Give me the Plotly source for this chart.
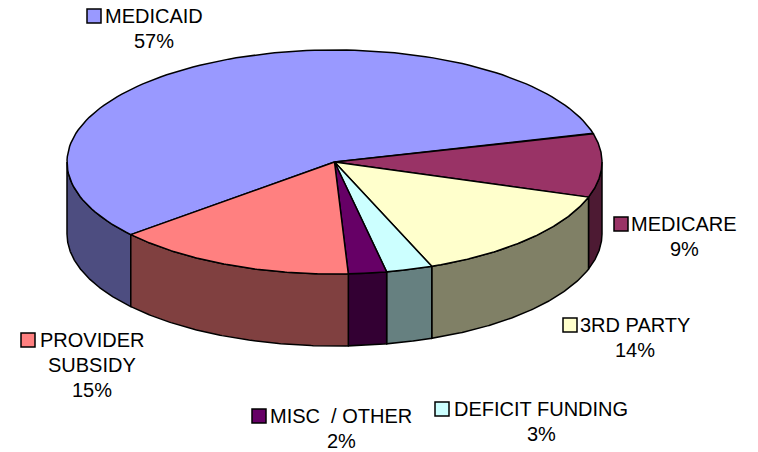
import math
import numpy as np
import plotly.graph_objects as go

# funding mix (%), clockwise from the left edge of the MEDICAID slice
CATEGORIES = ["MEDICAID", "MEDICARE", "3RD PARTY", "DEFICIT FUNDING", "MISC  / OTHER", "PROVIDER SUBSIDY"]
VALUES = [57.1, 9.2, 14.0, 2.8, 2.3, 14.6]

TOP_COLORS = ["#9999FF", "#993366", "#FFFFCC", "#CCFFFF", "#660066", "#FF8080"]
SIDE_COLORS = ["#4D4D80", "#4D1A33", "#808066", "#668080", "#330033", "#804040"]

# label layout: (text lines, text centre x, first-line centre y, key square left x)
LABEL_LAYOUT = {
    "MEDICAID": (["MEDICAID"], 154, 16, 87),
    "MEDICARE": (["MEDICARE"], 684, 224, 614),
    "3RD PARTY": (["3RD PARTY"], 635, 325, 563),
    "DEFICIT FUNDING": (["DEFICIT FUNDING"], 541, 409, 435),
    "MISC  / OTHER": (["MISC \u00a0/ OTHER"], 341, 416, 252),
    "PROVIDER SUBSIDY": (["PROVIDER", "SUBSIDY"], 92, 340, 21),
}

W, H = 758, 452
CX, CY, RX, RY, DEPTH = 334.5, 162, 267.5, 112, 72
START = 220.4  # degrees, slices run clockwise
LINE = dict(color="black", width=1.5)
FONT = dict(family="Liberation Sans, Arial, sans-serif", size=20, color="black")


def arc(a0, a1, dy=0.0, n=120):
    t = np.radians(np.linspace(a0, a1, n))
    return CX + RX * np.cos(t), CY - RY * np.sin(t) + dy


fig = go.Figure()
total = float(sum(VALUES))
bounds = []
acc = START
for v in VALUES:
    a0 = acc
    a1 = acc - v / total * 360.0
    bounds.append((a0, a1))
    acc = a1

# front walls (visible where the ellipse faces the viewer)
for (a0, a1), col in zip(bounds, SIDE_COLORS):
    for lo, hi in [(-180.0, 0.0), (180.0, 360.0)]:
        s, e = max(a1, lo), min(a0, hi)
        if e - s <= 0.01:
            continue
        x1, y1 = arc(e, s)
        x2, y2 = arc(s, e, dy=DEPTH)
        fig.add_trace(go.Scatter(x=np.r_[x1, x2, x1[:1]], y=np.r_[y1, y2, y1[:1]],
                                 mode="lines", fill="toself", fillcolor=col, line=LINE,
                                 hoverinfo="skip", showlegend=False))

# top faces
for (a0, a1), col, name in zip(bounds, TOP_COLORS, CATEGORIES):
    xs, ys = arc(a0, a1)
    fig.add_trace(go.Scatter(x=np.r_[CX, xs, CX], y=np.r_[CY, ys, CY],
                             mode="lines", fill="toself", fillcolor=col, line=LINE,
                             name=name, hoverinfo="skip", showlegend=False))

# labels with legend keys
pct = [f"{math.floor(round(v / total * 100, 6) + 0.5)}%" for v in VALUES]
for name, col, p in zip(CATEGORIES, TOP_COLORS, pct):
    lines, x, y, kx = LABEL_LAYOUT[name]
    for k, t in enumerate(lines + [p]):
        fig.add_annotation(x=x, y=y + 25 * k, text=t, showarrow=False, xref="x", yref="y",
                           xanchor="center", yanchor="middle", font=FONT)
    fig.add_shape(type="rect", xref="x", yref="y", x0=kx, x1=kx + 14, y0=y - 7, y1=y + 7,
                  fillcolor=col, line=dict(color="black", width=1.5))

fig.update_layout(width=W, height=H, margin=dict(l=0, r=0, t=0, b=0),
                  paper_bgcolor="white", plot_bgcolor="white",
                  xaxis=dict(visible=False, range=[0, W], fixedrange=True),
                  yaxis=dict(visible=False, range=[H, 0], fixedrange=True))
fig.write_html("out.html", config={"displayModeBar": False},
               post_script="document.body.style.margin='0';")
